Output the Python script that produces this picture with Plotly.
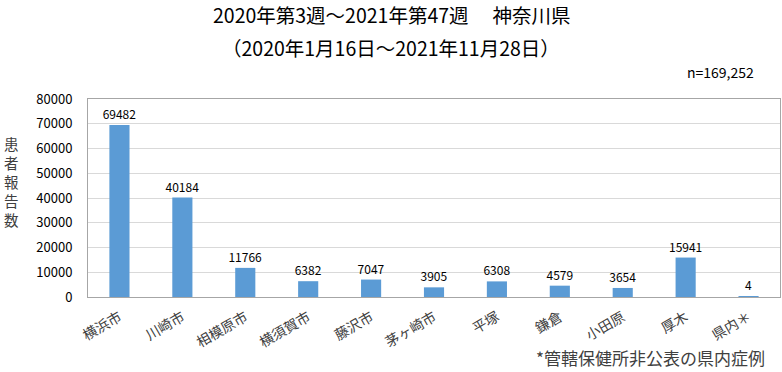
import plotly.graph_objects as go

categories = ["横浜市", "川崎市", "相模原市", "横須賀市", "藤沢市", "茅ヶ崎市", "平塚", "鎌倉", "小田原", "厚木", "県内＊"]
values = [69482, 40184, 11766, 6382, 7047, 3905, 6308, 4579, 3654, 15941, 4]
y_ticks = [0, 10000, 20000, 30000, 40000, 50000, 60000, 70000, 80000]
y_title_chars = ["患", "者", "報", "告", "数"]

font = "Noto Sans CJK JP"

W, H = 782, 372
l, r, t, b = 88, 2, 99, 372 - 297
pw, ph = W - l - r, H - t - b


def px2paper(px, py):
    return (px - l) / pw, (H - b - py) / ph


fig = go.Figure()
fig.add_trace(go.Bar(
    x=categories, y=values,
    marker=dict(color="#5B9BD5", line=dict(width=0)),
    text=[str(v) for v in values], textposition="outside",
    textfont=dict(size=12, color="#000000", family=font),
    constraintext="none",
    cliponaxis=False,
))

anns = []


def add_ann(text, px, py, size, color="#000000"):
    x, y = px2paper(px, py)
    anns.append(dict(text=text, x=x, y=y, xref="paper", yref="paper", showarrow=False,
                     xanchor="center", yanchor="middle", borderpad=0,
                     font=dict(size=size, family=font, color=color)))


add_ann("2020年第3週～2021年第47週　 神奈川県", 391, 15, 19.5)
add_ann("（2020年1月16日～2021年11月28日）", 391, 47, 19.5)
add_ann("n=169,252", 720, 72, 14)
for i, ch in enumerate(y_title_chars):
    add_ann(ch, 11, 143 + i * 19, 14.5, "#404040")
add_ann("*管轄保健所非公表の県内症例", 650, 357, 17, "#404040")

fig.update_layout(
    width=W, height=H,
    margin=dict(l=l, r=r, t=t, b=b, autoexpand=False),
    paper_bgcolor="white", plot_bgcolor="white",
    bargap=0.68,
    showlegend=False,
    font=dict(family=font, color="#000000"),
    uniformtext=dict(mode=False),
    xaxis=dict(
        tickangle=-30, tickfont=dict(size=14, family=font, color="#404040"),
        showline=True, linecolor="#A6A6A6", mirror=True, ticks="",
        showgrid=False, automargin=False, ticklabelstandoff=6,
    ),
    yaxis=dict(
        range=[0, 80000], tickvals=y_ticks, ticktext=[str(t) for t in y_ticks],
        tickfont=dict(size=13, family=font), showgrid=True, gridcolor="#D9D9D9",
        showline=True, linecolor="#A6A6A6", mirror=True, ticks="",
        zeroline=False, ticklabelstandoff=12, automargin=False,
    ),
    annotations=anns,
)

fig.write_html("out.html", config={"displayModeBar": False},
               post_script="document.body.style.margin='0px';")
